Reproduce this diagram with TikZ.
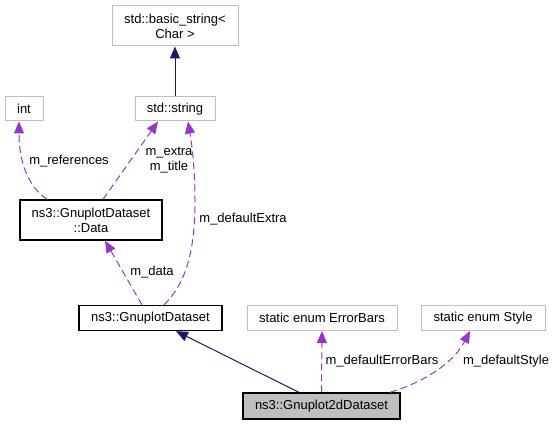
\documentclass[tikz,border=0pt]{standalone}
\usepackage{fontspec}
\setmainfont{Liberation Sans}
\usetikzlibrary{arrows.meta}
\definecolor{edgeblue}{RGB}{25,25,112}
\definecolor{usepurple}{RGB}{154,50,205}
\definecolor{boxgrey}{RGB}{191,191,191}

\begin{document}
\begin{tikzpicture}[x=1pt,y=-1pt,>={Triangle[length=12pt,width=10pt]},
                    font=\fontsize{13}{15}\selectfont]

  \tikzstyle{every node}=[inner sep=0pt,align=center]
  \tikzstyle{cls}=[rectangle,draw=boxgrey,line width=1pt]
  \tikzstyle{doc}=[rectangle,draw=black,line width=1.3pt]
  \tikzstyle{inherit}=[->,draw=edgeblue,line width=1pt]
  \tikzstyle{uses}=[->,draw=usepurple,line width=1pt,dash pattern=on 7pt off 4pt]

  \useasboundingbox (0,0) rectangle (557,425);

  \node[cls,minimum width=126pt,minimum height=40pt] (BS) at (175,26)    {std::basic\_string<\\Char >};
  \node[cls,minimum width=38pt,minimum height=24pt]  (IN) at (24,109)    {int};
  \node[cls,minimum width=80pt,minimum height=24pt]  (ST) at (175,109)   {std::string};
  \node[doc,minimum width=142pt,minimum height=40pt] (DA) at (91,220)    {ns3::GnuplotDataset\\::Data};
  \node[doc,minimum width=143pt,minimum height=25pt] (GD) at (150.5,318) {ns3::GnuplotDataset};
  \node[cls,minimum width=150pt,minimum height=25pt] (EB) at (322,318)   {static enum ErrorBars};
  \node[cls,minimum width=124pt,minimum height=25pt] (SY) at (483,318)   {static enum Style};
  \node[doc,fill=boxgrey,minimum width=157pt,minimum height=26pt] (G2) at (321.5,406) {ns3::Gnuplot2dDataset};

  % inheritance
  \draw[inherit] (ST) -- (BS);
  \draw[inherit] ([xshift=-22.5pt]G2.north) -- ([xshift=25.5pt]GD.south);

  % usage
  \draw[uses] ([xshift=-44pt]DA.north) .. controls (30,188) and (19,165) .. ([xshift=-5pt]IN.south);
  \draw[uses] ([xshift=12pt]DA.north) -- ([xshift=-17pt]ST.south);
  \draw[uses] ([xshift=13.5pt]GD.north) .. controls (190,280) and (195,240) .. (195,200)
                                       .. controls (195,170) and (192,145) .. ([xshift=13pt]ST.south);
  \draw[uses] ([xshift=-8.5pt]GD.north) -- ([xshift=14pt]DA.south);
  \draw[uses] (G2.north) -- (EB.south);
  \draw[uses] ([xshift=68.5pt]G2.north) .. controls (430,380) and (455,360) .. ([xshift=-13pt]SY.south);

  % member names
  \node (lref)   at (69,161)  {m\_references};
  \node (ltitle) at (169,160) {m\_extra\\m\_title};
  \node (lextra) at (243,219) {m\_defaultExtra};
  \node (ldata)  at (152,272) {m\_data};
  \node (lerr)   at (382,361) {m\_defaultErrorBars};
  \node (lstyle) at (506,361) {m\_defaultStyle};
\end{tikzpicture}
\end{document}
